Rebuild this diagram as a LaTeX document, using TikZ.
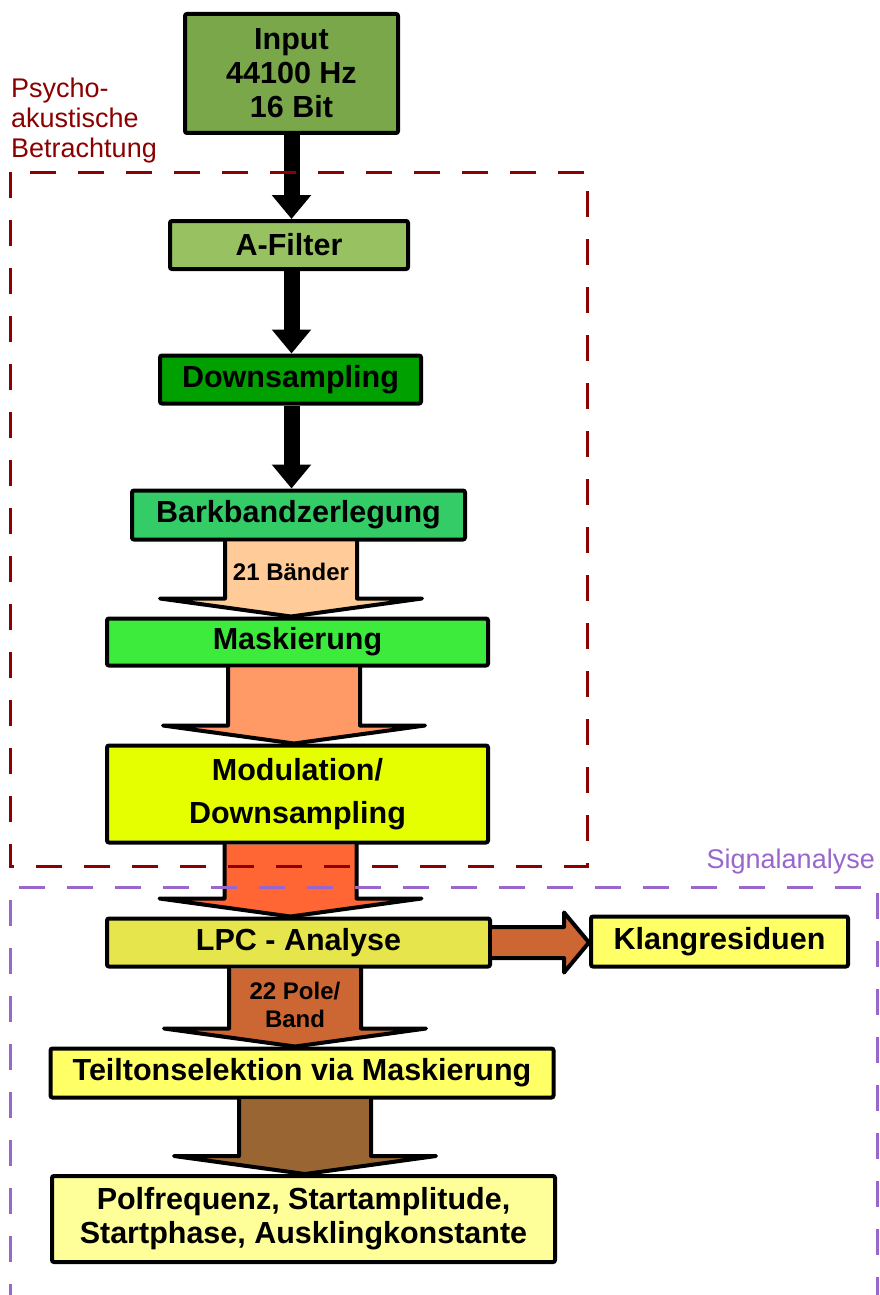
\documentclass[tikz,border=0pt]{standalone}
\usepackage{fontspec}
\setmainfont{Liberation Sans}
\usetikzlibrary{arrows.meta,calc}

\definecolor{inputgreen}{HTML}{79A74A}
\definecolor{filtergreen}{HTML}{98C262}
\definecolor{downgreen}{HTML}{00A000}
\definecolor{barkgreen}{HTML}{33CC66}
\definecolor{maskgreen}{HTML}{3DEB3D}
\definecolor{modyellow}{HTML}{E6FF00}
\definecolor{lpcyellow}{HTML}{E6E64C}
\definecolor{resyellow}{HTML}{FFFF66}
\definecolor{paleyellow}{HTML}{FFFF99}
\definecolor{bandpeach}{HTML}{FFCC99}
\definecolor{masksalmon}{HTML}{FF9966}
\definecolor{modorange}{HTML}{FF6633}
\definecolor{lpcbrown}{HTML}{CC6633}
\definecolor{polebrown}{HTML}{996633}
\definecolor{psyred}{HTML}{8B0000}
\definecolor{sigpurple}{HTML}{9966CC}

\newcommand{\boxfont}{\fontsize{30.5}{34}\selectfont\bfseries}
\newcommand{\bandfont}{\fontsize{24}{28}\selectfont\bfseries}

\tikzset{
  box/.style={draw=black, line width=4pt, rounded corners=2pt, font=\boxfont, align=center, inner sep=2pt},
  fatarrow/.style={line width=16pt, -{Triangle[width=38pt,length=24pt]}},
  bandarrow/.style={draw=black, line width=4pt, line join=round, line cap=round},
  bandlabel/.style={font=\bandfont, align=center, inner sep=0pt},
  region/.style={line width=3pt, dash pattern=on 26pt off 22pt},
  regionlabel/.style={font=\fontsize{27}{30}\selectfont, align=left, inner sep=0pt},
}

% broad arrow from #1 down to #2, centred at x=#3
\newcommand{\flowarrow}[4]{%
  \draw[bandarrow, fill=#4] let \p1=(#1.south), \p2=(#2.north) in
    (#3pt-66pt,\y1) -- (#3pt-66pt,\y2+18pt) -- (#3pt-131pt,\y2+18pt) -- (#3pt,\y2)
    -- (#3pt+131pt,\y2+18pt) -- (#3pt+66pt,\y2+18pt) -- (#3pt+66pt,\y1);}

\begin{document}
\begin{tikzpicture}[x=1pt,y=-1pt]
  \useasboundingbox (0,0) rectangle (880,1295);

  % blocks
  \node (input) [box, fill=inputgreen, minimum width=213pt, minimum height=119pt] at (291.5,73.5) {Input\\44100 Hz\\16 Bit};
  \node (afilter) [box, fill=filtergreen, minimum width=238pt, minimum height=48pt] at (289,245) {A-Filter};
  \node (downs) [box, fill=downgreen, minimum width=261pt, minimum height=48pt] at (290.5,379.5) {Downsampling};
  \node (bark) [box, fill=barkgreen, minimum width=333pt, minimum height=49pt] at (298.5,515) {Barkbandzerlegung};
  \node (mask) [box, fill=maskgreen, minimum width=381pt, minimum height=47pt] at (297.5,642) {Maskierung};
  \node (modul) [box, fill=modyellow, minimum width=381pt, minimum height=97pt, font=\fontsize{30.5}{43}\selectfont\bfseries] at (297.5,794) {Modulation/\\Downsampling};
  \node (lpc) [box, fill=lpcyellow, minimum width=383pt, minimum height=48pt] at (298.5,942.5) {LPC - Analyse};
  \node (klang) [box, fill=resyellow, minimum width=257pt, minimum height=50pt] at (719.5,941.5) {Klangresiduen};
  \node (teilton) [box, fill=resyellow, minimum width=503pt, minimum height=49pt] at (302,1073) {Teiltonselektion via Maskierung};
  \node (polfreq) [box, fill=paleyellow, minimum width=503pt, minimum height=86pt] at (303.5,1219) {Polfrequenz, Startamplitude,\\Startphase, Ausklingkonstante};

  % connectors
  \draw[fatarrow] (input.south) -- (input.south |- afilter.north);
  \draw[fatarrow] (afilter.south -| input.south) -- (input.south |- downs.north);
  \draw[fatarrow] (downs.south -| input.south) -- (input.south |- bark.north);
  \flowarrow{bark}{mask}{291}{bandpeach}
  \flowarrow{mask}{modul}{294}{masksalmon}
  \flowarrow{modul}{lpc}{290.5}{modorange}
  \flowarrow{lpc}{teilton}{295}{lpcbrown}
  \flowarrow{teilton}{polfreq}{305}{polebrown}
  \draw[bandarrow, fill=lpcbrown] let \p1=(lpc.east), \p2=(klang.west) in
    (\x1,\y1+15.5pt) -- (\x2-25pt,\y1+15.5pt) -- (\x2-25pt,\y1+30pt) -- (\x2,\y1)
    -- (\x2-25pt,\y1-30pt) -- (\x2-25pt,\y1-15.5pt) -- (\x1,\y1-15.5pt);
  \node (bands) [bandlabel] at (291,572) {21 B\"ander};
  \node (poles) [bandlabel] at (295,1005) {22 Pole/\\Band};

  % regions
  \draw[region, psyred] (10,172) rectangle (587,866);
  \draw[region, sigpurple] (10,1310) -- (10,887) -- (877,887) -- (877,1310);
  \node (psylabel) [regionlabel, psyred, anchor=north west] at (11,78) {Psycho-\\akustische\\Betrachtung};
  \node (siglabel) [regionlabel, sigpurple, anchor=base east] at (875,868) {Signalanalyse};
\end{tikzpicture}
\end{document}
